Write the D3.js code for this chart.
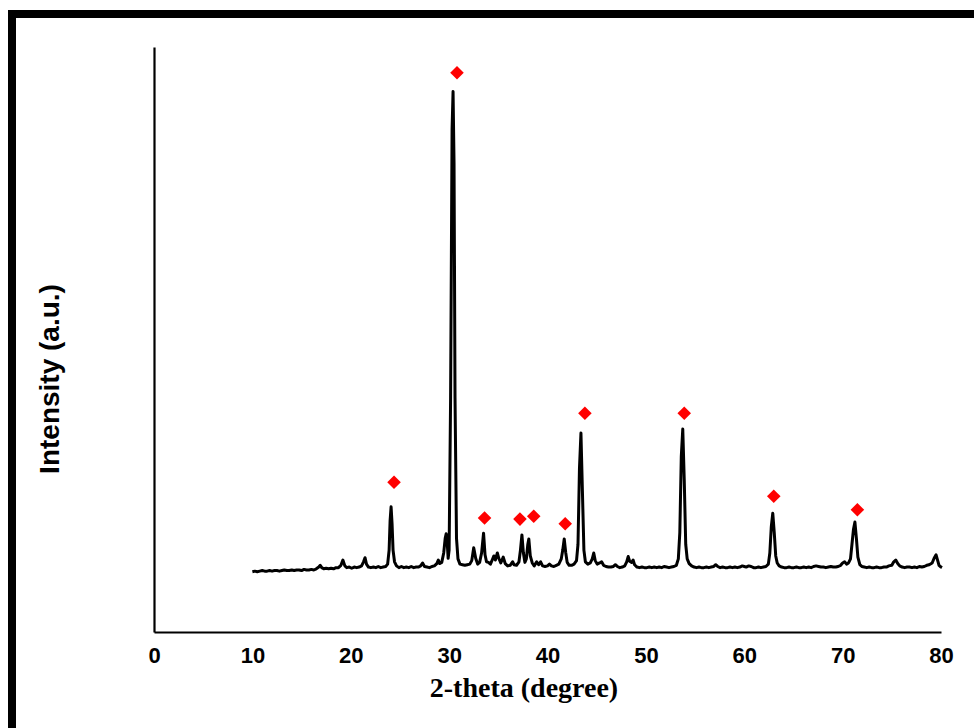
<!DOCTYPE html>
<html>
<head>
<meta charset="utf-8">
<script src="https://cdn.jsdelivr.net/npm/d3@7"></script>
<style>
  body { margin: 0; background: #fff; }
  .tick text { font-family: "Liberation Sans", Arial, sans-serif; font-weight: bold; font-size: 22px; fill: #000; }
</style>
</head>
<body>
<div class="chart"></div>
<script>
// XRD pattern: [2-theta, intensity (a.u.)]
var pattern = [
  [10.0, 10.3], [10.25, 10.4], [10.5, 10.3], [10.75, 10.4], [11.0, 10.5], [11.25, 10.4],
  [11.5, 10.4], [11.75, 10.5], [12.0, 10.4], [12.25, 10.5], [12.5, 10.5], [12.75, 10.4],
  [13.0, 10.5], [13.25, 10.6], [13.5, 10.5], [13.75, 10.5], [14.0, 10.6], [14.25, 10.5],
  [14.5, 10.6], [14.75, 10.6], [15.0, 10.5], [15.25, 10.7], [15.5, 10.6], [15.75, 10.6],
  [16.0, 10.7], [16.25, 10.6], [16.5, 10.8], [16.75, 11.1], [16.9, 11.4], [17.05, 11.0],
  [17.25, 10.8], [17.5, 10.9], [17.75, 10.8], [18.0, 10.9], [18.25, 10.8], [18.5, 11.0],
  [18.75, 11.0], [19.0, 11.4], [19.2, 12.3], [19.4, 11.3], [19.6, 11.0], [19.85, 11.1],
  [20.1, 10.9], [20.35, 11.1], [20.6, 11.0], [20.85, 11.1], [21.1, 11.3], [21.3, 12.0],
  [21.45, 12.7], [21.6, 11.6], [21.8, 11.1], [22.05, 11.0], [22.3, 11.1], [22.55, 11.0],
  [22.8, 11.2], [23.05, 11.0], [23.3, 11.1], [23.55, 11.2], [23.75, 11.6], [23.9, 14.0],
  [24.0, 19.0], [24.1, 21.4], [24.2, 18.5], [24.3, 14.0], [24.45, 12.0], [24.65, 11.3],
  [24.9, 11.0], [25.15, 11.2], [25.4, 11.0], [25.65, 11.1], [25.9, 11.0], [26.15, 11.2],
  [26.4, 11.0], [26.65, 11.1], [26.9, 11.1], [27.1, 11.3], [27.3, 11.8], [27.5, 11.2],
  [27.75, 11.1], [28.0, 11.0], [28.25, 11.2], [28.5, 11.3], [28.75, 11.7], [28.9, 12.3],
  [29.05, 11.7], [29.25, 11.9], [29.45, 13.5], [29.6, 16.0], [29.7, 16.8], [29.8, 15.5],
  [29.9, 12.6], [30.0, 14.0], [30.15, 40.0], [30.3, 86.0], [30.4, 92.4], [30.5, 80.0],
  [30.6, 40.0], [30.75, 16.0], [30.9, 12.5], [31.1, 11.6], [31.35, 11.5], [31.6, 11.4],
  [31.85, 11.5], [32.1, 11.6], [32.3, 12.2], [32.5, 14.4], [32.7, 12.6], [32.9, 11.6],
  [33.1, 11.9], [33.3, 13.5], [33.5, 16.9], [33.65, 13.2], [33.8, 12.0], [34.0, 11.9],
  [34.2, 11.6], [34.4, 12.4], [34.55, 13.0], [34.7, 12.3], [34.9, 13.5], [35.05, 12.6],
  [35.25, 11.8], [35.5, 12.8], [35.7, 11.7], [35.95, 11.3], [36.2, 11.4], [36.45, 12.0],
  [36.6, 11.5], [36.85, 11.4], [37.1, 12.0], [37.25, 14.0], [37.4, 16.6], [37.55, 13.5],
  [37.7, 11.9], [37.85, 12.5], [38.0, 15.0], [38.1, 15.9], [38.25, 13.0], [38.45, 11.8],
  [38.65, 11.3], [38.9, 12.0], [39.1, 11.5], [39.3, 12.0], [39.5, 11.3], [39.75, 11.2],
  [40.0, 11.3], [40.2, 11.6], [40.4, 11.3], [40.65, 11.2], [40.9, 11.4], [41.15, 11.6],
  [41.4, 12.5], [41.55, 14.0], [41.7, 15.9], [41.85, 13.6], [42.0, 11.9], [42.2, 11.4],
  [42.45, 11.4], [42.7, 11.6], [42.95, 12.2], [43.1, 15.0], [43.25, 28.0], [43.4, 34.0],
  [43.55, 24.0], [43.7, 14.0], [43.85, 12.0], [44.1, 11.6], [44.35, 11.8], [44.55, 12.5],
  [44.7, 13.5], [44.85, 12.2], [45.05, 11.6], [45.3, 11.8], [45.5, 12.0], [45.7, 11.4],
  [45.95, 11.2], [46.2, 11.1], [46.45, 11.1], [46.7, 11.2], [46.9, 11.5], [47.1, 11.2],
  [47.35, 11.0], [47.6, 11.1], [47.85, 11.3], [48.05, 12.0], [48.2, 12.9], [48.35, 12.1],
  [48.55, 11.9], [48.7, 12.3], [48.85, 11.5], [49.1, 11.1], [49.35, 11.0], [49.6, 11.1],
  [49.85, 11.0], [50.1, 11.0], [50.35, 11.1], [50.6, 11.0], [50.85, 11.1], [51.1, 11.0],
  [51.35, 11.1], [51.6, 11.0], [51.85, 11.2], [52.1, 11.1], [52.35, 11.0], [52.6, 11.1],
  [52.85, 11.2], [53.1, 11.4], [53.3, 12.5], [53.45, 17.0], [53.6, 30.0], [53.75, 34.7],
  [53.9, 26.0], [54.05, 15.0], [54.2, 12.5], [54.4, 11.7], [54.65, 11.3], [54.9, 11.1],
  [55.15, 11.0], [55.4, 11.1], [55.65, 11.0], [55.9, 11.0], [56.15, 11.1], [56.4, 11.0],
  [56.65, 11.1], [56.9, 11.2], [57.1, 11.5], [57.3, 11.2], [57.55, 11.0], [57.8, 11.1],
  [58.05, 11.0], [58.3, 11.0], [58.55, 11.1], [58.8, 11.0], [59.05, 11.1], [59.3, 11.0],
  [59.55, 11.1], [59.8, 11.3], [60.0, 11.2], [60.2, 11.1], [60.45, 11.3], [60.7, 11.2],
  [60.95, 11.0], [61.2, 11.0], [61.45, 11.1], [61.7, 11.0], [61.95, 11.1], [62.2, 11.2],
  [62.45, 11.6], [62.6, 13.5], [62.75, 18.0], [62.9, 20.3], [63.05, 17.0], [63.2, 13.0],
  [63.35, 11.8], [63.55, 11.3], [63.8, 11.1], [64.05, 11.0], [64.3, 11.0], [64.55, 11.1],
  [64.8, 11.0], [65.05, 11.0], [65.3, 11.1], [65.55, 11.0], [65.8, 11.0], [66.05, 11.1],
  [66.3, 11.0], [66.55, 11.1], [66.8, 11.0], [67.05, 11.2], [67.3, 11.3], [67.55, 11.2],
  [67.8, 11.1], [68.05, 11.1], [68.3, 11.0], [68.55, 11.1], [68.8, 11.2], [69.05, 11.1],
  [69.3, 11.1], [69.55, 11.2], [69.8, 11.4], [70.0, 11.8], [70.2, 12.0], [70.4, 11.6],
  [70.6, 11.8], [70.8, 12.5], [70.95, 15.0], [71.1, 17.5], [71.25, 18.8], [71.4, 16.0],
  [71.55, 12.8], [71.75, 11.5], [71.95, 11.2], [72.2, 11.1], [72.45, 11.0], [72.7, 11.1],
  [72.95, 11.0], [73.2, 11.0], [73.45, 11.1], [73.7, 11.0], [73.95, 11.0], [74.2, 11.1],
  [74.45, 11.1], [74.7, 11.3], [75.0, 11.4], [75.2, 12.0], [75.4, 12.3], [75.6, 11.7],
  [75.8, 11.3], [76.05, 11.1], [76.3, 11.0], [76.55, 11.1], [76.8, 11.1], [77.05, 11.0],
  [77.3, 11.1], [77.55, 11.0], [77.8, 11.2], [78.05, 11.1], [78.3, 11.2], [78.55, 11.4],
  [78.8, 11.5], [79.1, 11.8], [79.3, 12.6], [79.5, 13.2], [79.65, 12.3], [79.8, 11.4],
  [80.0, 11.1], [80.1, 11.0]
];

// red diamond markers: [2-theta, height]
var peakMarks = [
  [24.4, 25.6], [30.8, 95.6], [33.6, 19.5], [37.2, 19.3], [38.6, 19.8],
  [41.8, 18.5], [43.8, 37.4], [53.9, 37.4], [63.0, 23.2], [71.5, 20.9]
];

var xTicks = [0, 10, 20, 30, 40, 50, 60, 70, 80];

var svgWidth = 974;
var svgHeight = 728;

var margin = {
  top: 47,
  right: 33,
  bottom: 96,
  left: 154
};

var width = svgWidth - margin.left - margin.right;
var height = svgHeight - margin.top - margin.bottom;

var svg = d3
  .select(".chart")
  .append("svg")
  .attr("width", svgWidth)
  .attr("height", svgHeight);

svg.append("rect")
  .attr("width", svgWidth)
  .attr("height", svgHeight)
  .attr("fill", "#fff");

// thick black frame (top and left edges show)
svg.append("rect")
  .attr("x", 8).attr("y", 10)
  .attr("width", svgWidth).attr("height", 8)
  .attr("fill", "#000");
svg.append("rect")
  .attr("x", 8).attr("y", 10)
  .attr("width", 8).attr("height", svgHeight)
  .attr("fill", "#000");

var chartGroup = svg.append("g")
  .attr("transform", `translate(${margin.left}, ${margin.top})`);

var xLinearScale = d3.scaleLinear()
  .domain([0, 80])
  .range([0, width]);

var yLinearScale = d3.scaleLinear()
  .domain([0, 100])
  .range([height, 0]);

var bottomAxis = d3.axisBottom(xLinearScale)
  .tickValues(xTicks)
  .tickSize(0)
  .tickSizeOuter(0)
  .tickPadding(15);

var leftAxis = d3.axisLeft(yLinearScale)
  .tickValues([])
  .tickSizeOuter(0);

var xAxis = chartGroup.append("g")
  .attr("transform", `translate(0, ${height})`)
  .call(bottomAxis);
xAxis.select(".domain").attr("stroke", "#000").attr("stroke-width", 2.2);

var yAxis = chartGroup.append("g")
  .call(leftAxis);
yAxis.select(".domain").attr("stroke", "#000").attr("stroke-width", 2.2);

// the diffraction trace
var line = d3.line()
  .x(d => xLinearScale(d[0]))
  .y(d => yLinearScale(d[1]));

chartGroup.append("path")
  .datum(pattern)
  .attr("d", line)
  .attr("fill", "none")
  .attr("stroke", "#000")
  .attr("stroke-width", 3)
  .attr("stroke-linejoin", "round");

// diamonds over the indexed peaks
var diamond = d3.symbol().type(d3.symbolSquare).size(92);

chartGroup.selectAll(".mark")
  .data(peakMarks)
  .enter()
  .append("path")
  .classed("mark", true)
  .attr("d", diamond)
  .attr("transform", d => `translate(${xLinearScale(d[0])}, ${yLinearScale(d[1])}) rotate(45)`)
  .attr("fill", "#ff0000");

// axis titles
svg.append("text")
  .attr("x", 524)
  .attr("y", 697)
  .attr("text-anchor", "middle")
  .attr("font-family", "'Liberation Serif', 'Times New Roman', serif")
  .attr("font-weight", "bold")
  .attr("font-size", "28px")
  .text("2-theta (degree)");

svg.append("text")
  .attr("transform", "translate(59, 379) rotate(-90)")
  .attr("text-anchor", "middle")
  .attr("font-family", "'Liberation Sans', Arial, sans-serif")
  .attr("font-weight", "bold")
  .attr("font-size", "28px")
  .text("Intensity (a.u.)");
</script>
</body>
</html>
